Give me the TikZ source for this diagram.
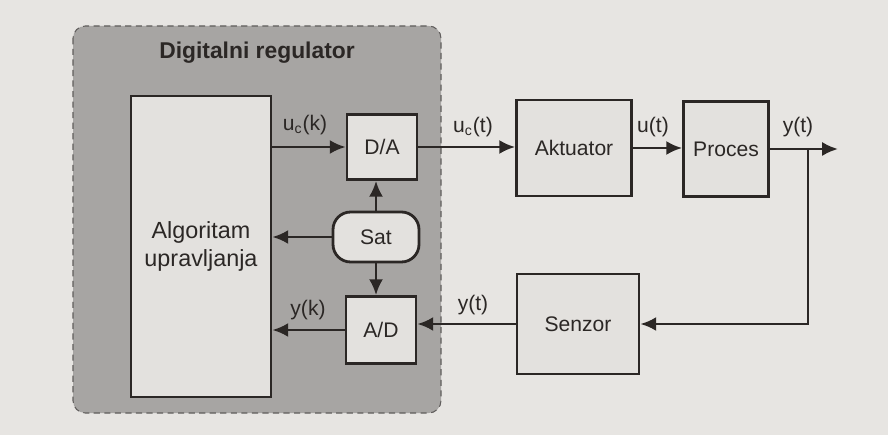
\documentclass[tikz,border=0pt]{standalone}
\usepackage{fontspec}
\setmainfont{Liberation Sans}
\usetikzlibrary{arrows.meta}
\definecolor{pagebg}{HTML}{E7E5E2}
\definecolor{regfill}{HTML}{A7A5A3}
\definecolor{blkfill}{HTML}{E3E1DE}
\definecolor{ink}{HTML}{2B2725}
\tikzset{
  blk/.style={draw=ink, line width=1.6pt, fill=blkfill, inner sep=0pt},
  lbl/.style={text=ink, font=\fontsize{12}{14}\selectfont},
  sig/.style={draw=ink, line width=1.5pt, -{Latex[length=9pt,width=8pt]}},
}
\begin{document}
\begin{tikzpicture}[x=0.02cm, y=-0.02cm]
    \fill[pagebg] (0,0) rectangle (888,435);
    \useasboundingbox (0,0) rectangle (888,435);
    \draw[ink!75, line width=0.6pt, dash pattern=on 3.5pt off 2.5pt, fill=regfill, rounded corners=7pt] (73,26) rectangle (441,413);
    \node[lbl, font=\bfseries\fontsize{13}{15}\selectfont] (title) at (257,53) {Digitalni regulator};
    \node[blk, lbl, font=\fontsize{13.3}{16}\selectfont, align=center, minimum width=2.8cm, minimum height=6.02cm] (alg) at (201,246.5) {Algoritam\\upravljanja};
    \node[blk, lbl, minimum width=1.4cm, minimum height=1.3cm] (da) at (382,147) {D/A};
    \node[blk, lbl, rounded corners=10pt, minimum width=1.72cm, minimum height=1cm] (sat) at (376,237) {Sat};
    \node[blk, lbl, minimum width=1.4cm, minimum height=1.34cm] (ad) at (381,330) {A/D};
    \node[blk, lbl, minimum width=2.3cm, minimum height=1.92cm] (akt) at (574,148) {Aktuator};
    \node[blk, lbl, minimum width=1.7cm, minimum height=1.9cm] (proc) at (726,149) {Proces};
    \node[blk, lbl, minimum width=2.44cm, minimum height=2cm] (senz) at (578,324) {Senzor};
    \coordinate (tap) at (808,149);
    \coordinate (out) at (838,149);
    \draw[sig] (alg.east |- da.west) -- (da.west);
    \draw[sig] (da.east) -- (da.east -| akt.west);
    \draw[sig] (akt.east) -- (akt.east -| proc.west);
    \draw[sig] (proc.east) -- (out);
    \draw[sig] (tap) |- (senz.east);
    \draw[sig] (senz.west) -- (senz.west -| ad.east);
    \draw[sig] (ad.west) -- (ad.west -| alg.east);
    \draw[sig] (sat.west) -- (sat.west -| alg.east);
    \draw[sig] (sat.north) -- (sat.north |- da.south);
    \draw[sig] (sat.south) -- (sat.south |- ad.north);
    \node[lbl] (uck) at (305,125) {u\textsubscript{c}(k)};
    \node[lbl] (uct) at (473,127) {u\textsubscript{c}(t)};
    \node[lbl] (ut) at (653,127) {u(t)};
    \node[lbl] (yt) at (798,127) {y(t)};
    \node[lbl] (ytsen) at (473,305) {y(t)};
    \node[lbl] (yk) at (308,310) {y(k)};
  \end{tikzpicture}
\end{document}
